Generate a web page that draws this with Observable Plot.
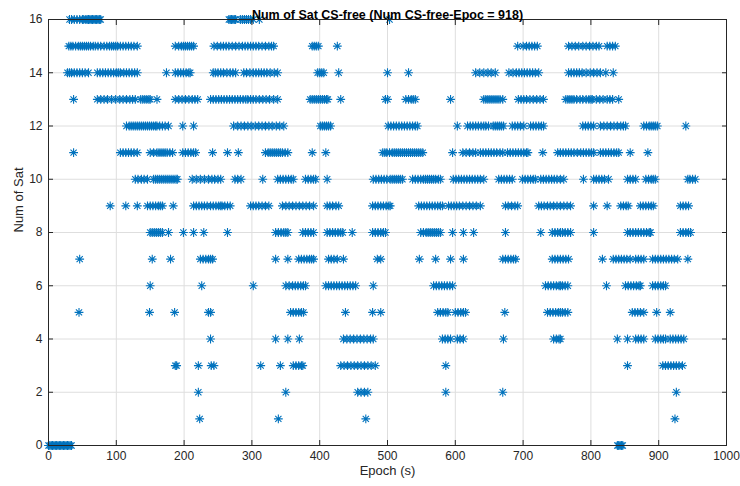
<!DOCTYPE html>
<html>
<head>
<meta charset="utf-8">
<script src="https://cdn.jsdelivr.net/npm/d3@7"></script>
<script src="https://cdn.jsdelivr.net/npm/@observablehq/plot@0.6"></script>
<style>
  html, body { margin: 0; padding: 0; background: white; }
</style>
</head>
<body>
<div id="chart"></div>
<script>
const title = "Num of Sat CS-free (Num CS-free-Epoc = 918)";
const xLabel = "Epoch (s)";
const yLabel = "Num of Sat";
const xTicks = [0, 100, 200, 300, 400, 500, 600, 700, 800, 900, 1000];
const yTicks = [0, 2, 4, 6, 8, 10, 12, 14, 16];

// epochs (s) at which the CS-free satellite count equals each level
const sat0 = [0,2,4,6,8,10,12,14,16,18,20,22,24,26,28,30,32,34, 839,841,843,845,847];
const sat1 = [223, 339, 468, 924];
const sat2 = [221, 350, 456,461,466,471, 586, 670, 926];
const sat3 = [187,189, 221, 240,244, 313, 342, 361,365,369,373,375,
  431,436,441,446,451,456,461,466,471,476,482, 586, 854,
  906,910,914,918,922,926,930,935];
const sat4 = [239, 335, 353, 370, 435,440,445,450,455,460,465,470,475,479,
  581,585,589,593, 603,607,612, 671, 745,749,753,755, 839, 854,
  866,870,874,878, 895,899,903,907,910, 917,921,925,929,933,937];
const sat5 = [45, 149, 186, 236, 239, 357,361,365,369,373,376, 438, 478, 490,
  574,578,582,586,589, 600,604,608,612,615, 673,
  736,740,744,748,752,755,758,762,766, 861,865,869,873,878, 897, 917];
const sat6 = [150, 226, 302, 350,355,360,364,368,372,376,379,
  409,413,417,421,425,429,433,437,441,445,449,453, 479,
  568,572,576,580,584,588,592,596, 733,737,741,745,749,753,755,758,762,766,
  823, 851,855,859,863,867,871,873, 891,895,899,903,907,910];
const sat7 = [46, 153, 180, 224,228,232,236,239,242, 335, 353,
  369,373,377,381,385,388,391, 413,417,421,426, 435, 485, 490, 547, 571, 593, 612,
  670,674,678,682,686,689, 743,747,751,755,759,763,767, 817,
  833,837,841,845,849,853,858, 866,870,874,878,
  891,895,899,903,907,911,915,919,923,928, 943];
const sat8 = [150,153,156,159,162,165,168, 177, 199, 214, 229, 264,
  335,339,343,347,350,353, 375,379,383,387,391, 411,415,419,423,427,431,434, 448,
  478,482,486,490,494,497, 549,553,557,560,563,566,569,572,575,578, 596, 612, 627,
  674, 726, 743,747,751,755,758,762,766,770, 804,
  854,858,862,866,870,874,878,882,886,888, 932,936,940,944,947];
const sat9 = [91, 114, 131, 146,150,154,158,162,165,168, 184,
  214,218,222,226,230,234,239,243,247,251,254,256,260,264,268,
  298,302,306,310,315,320,325, 345,350,355,360,365,370,375,380,385,391,
  411,415,419,424,428, 478,482,486,490,494,498,502,504,
  546,550,554,558,562,566,570,574,578,581, 590,594,598,602,606,611,616,621,626,631,637,
  674,678,683,688,692, 723,727,731,736,740,745,750,755,760,765,770, 804, 824,
  844,848,852,855, 873,877,881,885,889,892, 932,936,940,944];
const sat10 = [128,132,137,141,146, 155,158,161,164,167,170,173,176,179,182,185,188,190,
  212,218,224,230,236,241,245,250,254, 275,279,284, 316, 338,342,346,350,354,358,361,
  379,383,387,391,394, 411, 479,483,487,491,495,499,504,507,510,513,516,519,522,
  537,541,545,549,553,556,559,562,565,568,571,575,578,
  597,601,605,609,613,617,621,625,629,633,637,642, 664,668,672,676,680,684,
  699,703,707,711,715,718, 726,730,734,738,742,746,750,755,760,
  789, 804,808,812,816,820,826, 854,858,862,866, 881,885,889,892,895, 943,946,950,954];
const sat11 = [37, 106,110,114,118,122,126,131, 150,155,160,163,166,169,172,175,179,183,
  198,202,206,210,214,217, 242, 264, 280, 320,324,327,330,333,336,339,342,345,349,353,
  389, 409, 493,496,499,503,507,510,513,516,519,522,525,528,531,534,537,540,543,546,549,552,
  596, 611,616,621,626,630, 637,641,645,649,653,657,661,666,670,
  677,681,685,689,693,697,701,705,707, 729, 751,755,759,763,767,771,775,780,
  785,789,793,797,801,804, 814,818,822,826,830,834,838,841, 858, 884];
const sat12 = [115,119,122,125,128,131,134,137,140,143,146,149,152,155,158,160,164,168,172,177,
  198, 214, 273,279,284,289,294,299,305,310,315,320,325,330,336,341,347,
  401,404,407,410,413,416, 501,505,509,513,517,521,525,529,533,537,541,544, 603,
  618,622,626,630,634,638,642,645,649, 656,659,662,665,668,671, 684,688,692,696,701,
  711,715,719,723,727,730, 788,792,796,800,804, 814,819,824,829,834,839,844,848,851,
  878,882,886,889,892,895,898, 940];
const sat13 = [37, 72,77,82,87,93,99, 105,110,115,120,124,128, 136,139,142,145,148,150, 160,
  187,192,197,202,207,212,216,220, 239,243,247,251,255,259,263,267,271,275,279,283,287,291,294,298,
  302,306,311,316,321,326,332,338, 386,389,392,395,398,401,404,407,410,412, 431, 497, 500,
  527,531,535,538,541, 593, 642,645,648,651,654,657,660,663,666,670,
  693,697,701,705,710,715,720,725,730, 763,766,769,772,775,779,784,788,793,797,800,
  802,808,813,818,824,828,832, 841];
const sat14 = [28,31,34,38,42,46,50,54,59, 72,76,80,84,88,92,96,100,103,106,
  111,115,119,123,127,131, 174, 187,191,195,199,203,207,209,
  243,246,250,254,258,263,268,272,276, 288,292,297,302,306,310,314,318,322,327,333,338,
  397,400,403,406, 428, 500, 531, 630,636,642,648,653,659,
  679,685,690,694,698,702,706,710,714,718,723,
  767,771,775,779,783,787,793,799,804,809,814,822,833];
const sat15 = [30,33,36,40,44,47,50,53,56,59,62,66, 69,73,77,82,86,90,93,96,99,102,106,110,114,118,122,126,131,
  187,192,196,199,202,205,208,211,214, 244,249,254,258,262,266,271,276,281,286,290,294,298,302,306,310,315,320,325,329,332,
  389,392,395,398, 426, 692,700,705,709,713,717,721,
  767,772,777,782,788,793,798,803,808,812, 824,828,832,836];
const sat16 = [31,34,38,42,46,50,52,55,57,59,61,63,65,67,69,71,73,75,77,
  266,268,270,272,274,276, 283,286,289,292,295,298,302, 311, 503];

const levels = [sat0, sat1, sat2, sat3, sat4, sat5, sat6, sat7, sat8,
  sat9, sat10, sat11, sat12, sat13, sat14, sat15, sat16];
const data = levels.flatMap((epochs, n) => epochs.map(e => ({epoch: e, sats: n})));

// MATLAB-style "*" marker (plus + cross)
const asterisk = {
  draw(ctx, size) {
    const r = Math.sqrt(size / Math.PI);
    const d = r * Math.SQRT1_2;
    ctx.moveTo(-r, 0); ctx.lineTo(r, 0);
    ctx.moveTo(0, -r); ctx.lineTo(0, r);
    ctx.moveTo(-d, -d); ctx.lineTo(d, d);
    ctx.moveTo(-d, d); ctx.lineTo(d, -d);
  }
};

const axisColor = "#262626";
const fmt = d => String(d);
const none = () => "";
const chart = Plot.plot({
  width: 740,
  height: 486,
  marginLeft: 48,
  marginRight: 14,
  marginTop: 19,
  marginBottom: 41,
  x: {domain: [0, 1000]},
  y: {domain: [0, 16]},
  style: {fontFamily: "'Liberation Sans', Arial, sans-serif", fontSize: "12px", color: axisColor, background: "white"},
  marks: [
    Plot.gridX(xTicks, {stroke: "#dedede", strokeOpacity: 1}),
    Plot.gridY(yTicks, {stroke: "#dedede", strokeOpacity: 1}),
    Plot.dot(data, {x: "epoch", y: "sats", symbol: asterisk, r: 4.4, fill: "none", stroke: "#0072BD", strokeWidth: 1.1}),
    Plot.frame({stroke: axisColor, strokeWidth: 1}),
    // inward tick marks on all four sides
    Plot.axisX(xTicks, {anchor: "bottom", tickSize: -5, tickFormat: none, label: null, stroke: axisColor}),
    Plot.axisX(xTicks, {anchor: "top", tickSize: -5, tickFormat: none, label: null, stroke: axisColor}),
    Plot.axisY(yTicks, {anchor: "left", tickSize: -5, tickFormat: none, label: null, stroke: axisColor}),
    Plot.axisY(yTicks, {anchor: "right", tickSize: -5, tickFormat: none, label: null, stroke: axisColor}),
    // tick labels
    Plot.axisX(xTicks, {anchor: "bottom", tickSize: 0, tickPadding: 6, tickFormat: fmt, label: null}),
    Plot.axisY(yTicks, {anchor: "left", tickSize: 0, tickPadding: 6, tickFormat: fmt, label: null}),
    Plot.text([xLabel], {frameAnchor: "bottom", dy: 29, fontSize: 13, fill: axisColor}),
    Plot.text([yLabel], {frameAnchor: "left", rotate: -90, dx: -30, fontSize: 13, fill: axisColor}),
    Plot.text([title], {frameAnchor: "top", dy: -9, fontSize: 12.5, fontWeight: "bold", fill: "black"})
  ]
});
document.getElementById("chart").appendChild(chart);
</script>
</body>
</html>
